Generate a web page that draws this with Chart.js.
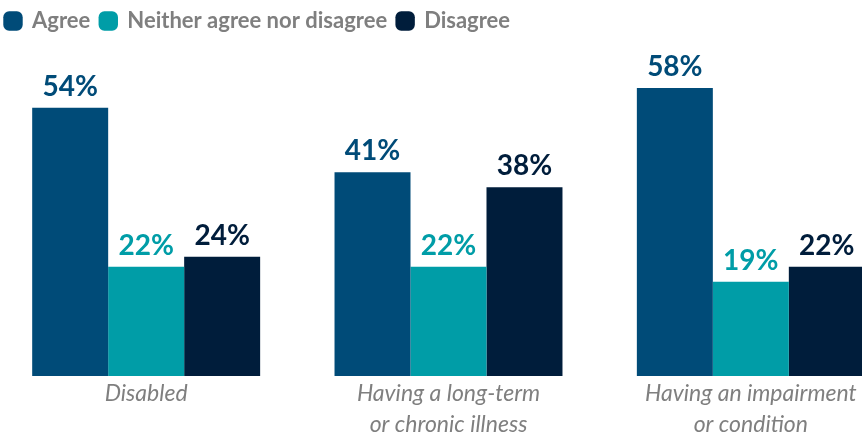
<!DOCTYPE html>
<html>
<head>
<meta charset="utf-8">
<script src="https://cdn.jsdelivr.net/npm/chart.js@4"></script>
<style>
  html, body { margin: 0; padding: 0; background: #fff; overflow: hidden; }
  #wrap { position: absolute; left: -5px; top: 0; width: 907px; height: 436px; }
</style>
</head>
<body>
<div id="wrap"><canvas id="chart"></canvas></div>
<script>
// categories and series
const categories = [
  ["Disabled"],
  ["Having a long-term", "or chronic illness"],
  ["Having an impairment", "or condition"],
];
const seriesNames = ["Agree", "Neither agree nor disagree", "Disagree"];
const agree = [54, 41, 58];
const neither = [22, 22, 19];
const disagree = [24, 38, 22];
const colours = ["#004b78", "#009da7", "#001d3b"];

// labels above each bar, same colour as the bar
const valueLabels = {
  id: "valueLabels",
  afterDatasetsDraw(chart) {
    const ctx = chart.ctx;
    ctx.save();
    ctx.font = "bold 28px Lato";
    ctx.textAlign = "center";
    ctx.textBaseline = "bottom";
    chart.data.datasets.forEach((ds, i) => {
      chart.getDatasetMeta(i).data.forEach((bar, j) => {
        ctx.fillStyle = ds.backgroundColor;
        ctx.fillText(ds.data[j] + "%", bar.x, bar.y - 7);
      });
    });
    ctx.restore();
  },
};

// fix legend block height so plot area starts at the right place
const legendHeight = {
  id: "legendHeight",
  beforeInit(chart) {
    const fit = chart.legend.fit;
    chart.legend.fit = function () {
      fit.call(this);
      this.height = 78;
    };
  },
};

const data = {
  labels: categories,
  datasets: [
    { label: seriesNames[0], data: agree, backgroundColor: colours[0] },
    { label: seriesNames[1], data: neither, backgroundColor: colours[1] },
    { label: seriesNames[2], data: disagree, backgroundColor: colours[2] },
  ],
};

const config = {
  type: "bar",
  data,
  options: {
    responsive: true,
    maintainAspectRatio: false,
    animation: false,
    datasets: {
      bar: { categoryPercentage: 0.754, barPercentage: 1.0, borderWidth: 0 },
    },
    scales: {
      x: {
        grid: { display: false, drawTicks: false },
        border: { display: false },
        ticks: {
          color: "#7f7f7f",
          font: { family: "Lato", size: 23, style: "italic", lineHeight: 1.35 },
          padding: 2,
          maxRotation: 0,
        },
        afterFit(scale) { scale.height = 60; },
      },
      y: {
        display: false,
        min: 0,
        max: 60,
      },
    },
    plugins: {
      tooltip: { enabled: false },
      legend: {
        position: "top",
        align: "start",
        labels: {
          color: "#7f7f7f",
          font: { family: "Lato", size: 22, weight: "bold" },
          usePointStyle: true,
          pointStyle: "rectRounded",
          boxWidth: 16,
          boxHeight: 16,
          padding: 10,
        },
      },
    },
  },
  plugins: [valueLabels, legendHeight],
};

const canvas = document.getElementById("chart");
new Chart(canvas, config);
</script>
</body>
</html>
